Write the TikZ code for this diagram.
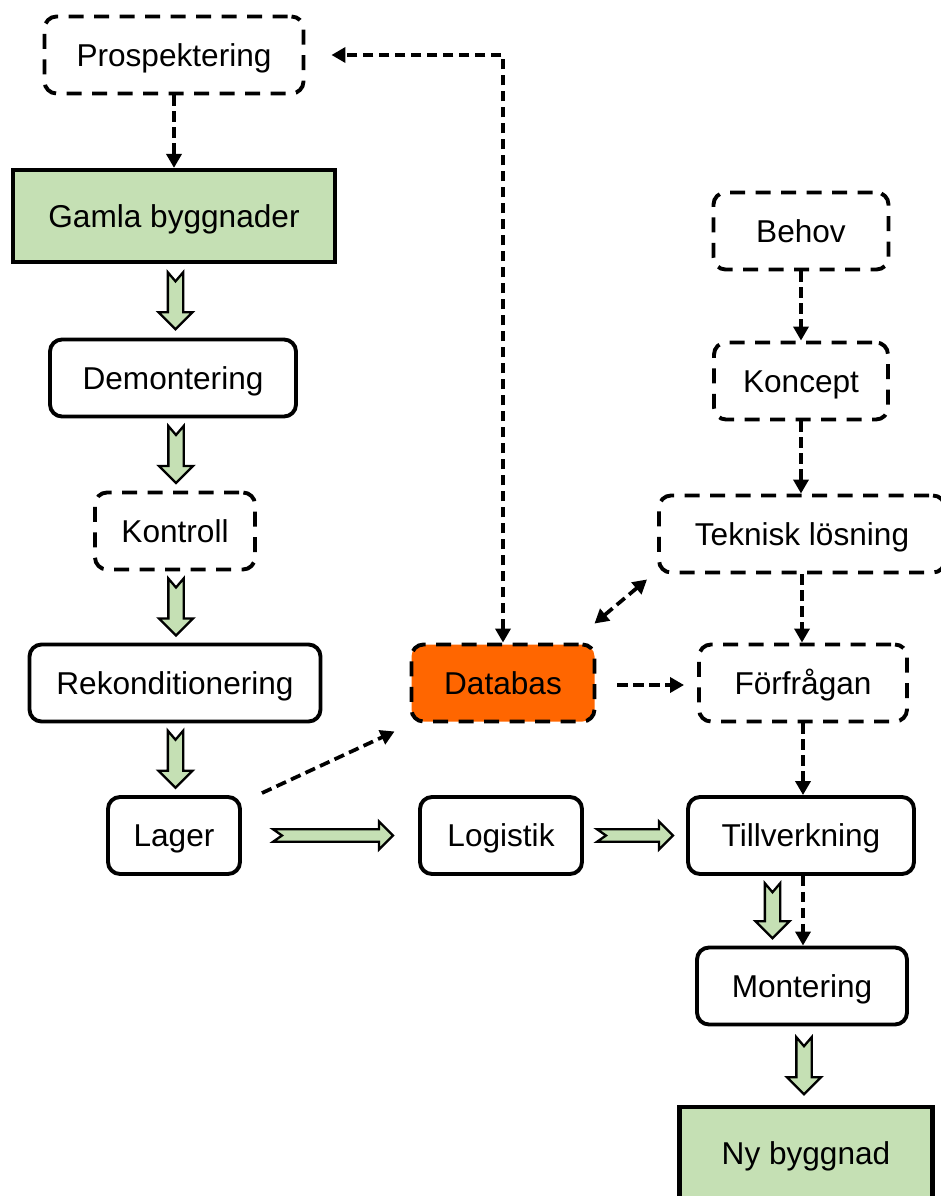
\documentclass[tikz,border=0pt]{standalone}
\usepackage{fontspec}
\setmainfont{Liberation Sans}
\usetikzlibrary{arrows.meta,calc}
\definecolor{leaf}{HTML}{C5E0B4}
\definecolor{dbfill}{HTML}{FF6600}
\tikzset{
  box/.style={draw, line width=3.9pt, rounded corners=12pt, align=center,
    font=\fontsize{31.6pt}{36pt}\selectfont, text height=22.6pt, text depth=0pt,
    inner sep=0pt, minimum height=77pt},
  dashbox/.style={box, dash pattern=on 15pt off 10.5pt, dash phase=-4pt},
  greenbox/.style={box, rounded corners=0pt, fill=leaf, line width=4.2pt, minimum height=92pt},
  conn/.style={line width=3.7pt, dash pattern=on 10.5pt off 5.5pt,
    -{Triangle[length=14pt,width=15pt]}},
  bothconn/.style={conn, {Triangle[length=14pt,width=15pt]}-{Triangle[length=14pt,width=15pt]}},
  flow/.style={draw, fill=leaf, line width=2.3pt, line join=miter},
  % notched block arrow, centred on its position, pointing along +x
  % #1 = total length, #2 = half width of the head
  pics/barrow/.style 2 args={code={
    \path[flow] ({-0.5*#1},{-0.45*#2}) -- ({0.5*#1-#2},{-0.45*#2}) -- ({0.5*#1-#2},{-#2})
      -- ({0.5*#1},0) -- ({0.5*#1-#2},{#2}) -- ({0.5*#1-#2},{0.45*#2})
      -- ({-0.5*#1},{0.45*#2}) -- ({-0.5*#1+9},0) -- cycle;
  }}
}
\begin{document}
\begin{tikzpicture}[x=1pt,y=-1pt]
\useasboundingbox (0,0) rectangle (941,1196);

% left column: reuse of old buildings
\node[dashbox, minimum width=259pt] (prosp) at (174,55) {Prospektering};
\node[greenbox, minimum width=322pt] (gamla) at (174,216) {Gamla byggnader};
\node[box, minimum width=246pt] (demont) at (173,378) {Demontering};
\node[dashbox, minimum width=160pt] (kontroll) at (175,531) {Kontroll};
\node[box, minimum width=291pt] (rekond) at (175,683) {Rekonditionering};
\node[box, minimum width=132pt] (lager) at (174,835.5) {Lager};

% middle
\node[dashbox, fill=dbfill, minimum width=183pt] (databas) at (503,683) {Databas};
\node[box, minimum width=162pt] (logistik) at (501,835.5) {Logistik};

% right column: design of the new building
\node[dashbox, minimum width=175pt] (behov) at (801,231) {Behov};
\node[dashbox, minimum width=174pt] (koncept) at (801,381) {Koncept};
\node[dashbox, minimum width=286pt] (teknisk) at (802,534) {Teknisk lösning};
\node[dashbox, minimum width=208pt] (forfr) at (803,683) {Förfrågan};
\node[box, minimum width=226pt] (tillv) at (801,835.5) {Tillverkning};
\node[box, minimum width=210pt] (montering) at (802,986) {Montering};
\node[greenbox, minimum width=253pt] (nybygg) at (806,1153) {Ny byggnad};

% material flow
\pic[rotate=-90] at ($(gamla.south)!0.5!(demont.north)+(2,0)$) {barrow={57}{17}};
\pic[rotate=-90] at ($(demont.south)!0.5!(kontroll.north)+(2,0)$) {barrow={57}{17}};
\pic[rotate=-90] at ($(kontroll.south)!0.5!(rekond.north)+(1,0)$) {barrow={57}{17}};
\pic[rotate=-90] at ($(rekond.south)!0.5!(lager.north)+(1,0)$) {barrow={57}{17}};
\pic at ($(lager.east)!0.5!(logistik.west)+(3,0)$) {barrow={120}{14}};
\pic at ($(logistik.east)!0.5!(tillv.west)$) {barrow={76}{14}};
\pic[rotate=-90] at ($(tillv.south)!0.5!(montering.north)+(-29,0)$) {barrow={55}{17}};
\pic[rotate=-90] at ($(montering.south)!0.5!(nybygg.north)$) {barrow={57}{17}};

% information flow
\draw[conn] (prosp.south) -- (gamla.north);
\draw[bothconn] (databas.north) |- ($(prosp.east)+(26,0)$);
\draw[conn] ($(lager.north east)+(20,-2)$) -- ($(databas.south west)+(-15,8)$);
\draw[conn] ($(databas.east)+(21,2)$) -- ($(forfr.west)+(-13,2)$);
\draw[bothconn] ($(databas.north east)+(-2,-19)$) -- ($(teknisk.south west)+(-10,5)$);
\draw[conn] (behov.south) -- (behov.south |- koncept.north);
\draw[conn] (koncept.south) -- (koncept.south |- teknisk.north);
\draw[conn] (teknisk.south) -- (teknisk.south |- forfr.north);
\draw[conn] (forfr.south) -- (forfr.south |- tillv.north);
\draw[conn] ($(tillv.south)+(2,0)$) -- ($(montering.north)+(1,0)$);
\end{tikzpicture}
\end{document}
